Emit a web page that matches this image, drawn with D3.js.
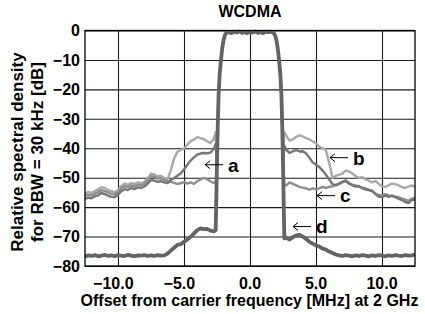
<!DOCTYPE html>
<html><head><meta charset="utf-8">
<script src="https://cdn.jsdelivr.net/npm/d3@7"></script>
<style>
body{margin:0;background:#fff}
text{font-family:"Liberation Sans",Arial,Helvetica,sans-serif;font-weight:bold;fill:#000}
</style>
</head><body>
<svg id="chart" width="425" height="314"></svg>
<script>
const chartTitle = "WCDMA";
const xAxisTitle = "Offset from carrier frequency [MHz] at 2 GHz";
const yAxisTitleLines = ["Relative spectral density", "for RBW = 30 kHz [dB]"];
const xTicks = [-10, -5, 0, 5, 10];
const yTicks = [0, -10, -20, -30, -40, -50, -60, -70, -80];

// carrier (shared by all four traces)
const carrierOffsets = [-2.5,-2.44,-2.38,-2.3,-2.2,-2.1,-2.0,-1.9,-1.8,-1.6,-1.4,-1.2,-1.0,-0.8,-0.6,-0.4,-0.2,0,0.2,0.4,0.6,0.8,1.0,1.2,1.4,1.6,1.8,1.9,2.0,2.1,2.2,2.3,2.38,2.44,2.5];
const carrierLevels  = [-45,-32,-22,-15,-10,-6,-3.2,-1.6,-0.8,-0.5,-0.9,-0.4,-0.7,-0.3,-0.8,-0.5,-0.9,-0.4,-0.7,-0.3,-0.8,-0.5,-0.9,-0.4,-0.6,-0.4,-0.9,-1.6,-3.2,-6,-10,-15,-22,-32,-45];

const leftOffsets = [-12.5,-12.25,-12,-11.75,-11.5,-11.25,-11,-10.75,-10.5,-10.25,-10,-9.75,-9.5,-9.25,-9,-8.75,-8.5,-8.25,-8,-7.75,-7.5,-7.25,-7,-6.75,-6.5,-6.25,-6,-5.75,-5.5,-5.25,-5,-4.75,-4.5,-4.25,-4,-3.75,-3.5,-3.25,-3,-2.75,-2.6];
const rightOffsets = [2.6,2.75,3,3.25,3.5,3.75,4,4.25,4.5,4.75,5,5.25,5.5,5.75,6,6.25,6.5,6.75,7,7.25,7.5,7.75,8,8.25,8.5,8.75,9,9.25,9.5,9.75,10,10.25,10.5,10.75,11,11.25,11.5,11.75,12,12.25,12.5];

const seriesNames = ["b", "c", "a", "d"];
const bLeft = [-55.5,-54.8,-55.2,-54.5,-54,-53.2,-53.5,-54.2,-54.6,-55,-54.2,-52.8,-52,-52.4,-51.8,-52.2,-51.6,-51.9,-51.4,-50.2,-48.6,-48.9,-49.6,-49.3,-50.1,-50.6,-47.5,-43.5,-41.2,-40.6,-40.1,-38.8,-37.6,-37.1,-36.2,-36.6,-36.9,-37.6,-38.2,-37,-34.5];
const bRight = [-34.5,-35.8,-37.4,-37,-36.1,-35.6,-36,-36.6,-37,-37.6,-38.3,-39.4,-40,-40.6,-45,-50,-49.4,-49,-48.6,-47.6,-47.9,-48.6,-49.4,-50.1,-49.8,-50.6,-51,-51.6,-51.1,-52.1,-52.9,-53.1,-52.6,-52,-52.2,-52.6,-53.2,-53.5,-53,-52.6,-53.1];
const cLeft = [-56.3,-55.8,-56,-55.4,-54.9,-54.2,-54.6,-55,-55.5,-55.7,-54.9,-53.6,-52.9,-53.1,-52.6,-53,-52.4,-52.6,-52.1,-51,-49.5,-49.7,-50.3,-50.2,-50.8,-51.2,-51.4,-51.8,-52.1,-51.9,-51.5,-52,-51.6,-52.1,-51.2,-50.6,-50.1,-50.5,-51.2,-51.8,-51.5];
const cRight = [-52.2,-52.6,-51.6,-52.1,-52.6,-53.1,-53.4,-53.6,-54.1,-53.6,-54,-53.6,-53.1,-53.5,-53.1,-53,-52.4,-52.1,-51.6,-51.2,-52.1,-52.4,-52.6,-53.1,-53.4,-53.6,-54.1,-54.4,-55.4,-55.9,-56.1,-55.6,-56,-56.1,-56.4,-56.6,-57.1,-57.4,-57.9,-57.1,-56.9];
const aLeft = [-57.2,-56.8,-57,-56.3,-56,-55.2,-55.6,-56.1,-56.5,-56.6,-55.8,-54.6,-53.9,-54.2,-53.5,-53.9,-53.3,-53.5,-53,-52,-50.8,-51,-51.4,-51.2,-51.6,-51.8,-50.8,-50.2,-49.3,-48.6,-47.2,-45.6,-44.2,-43.1,-42.2,-41.8,-41.6,-41.7,-41.5,-40.2,-38.5];
const aRight = [-39,-40.6,-41.6,-41,-40.6,-41.1,-41,-41.8,-43.2,-44.8,-45.6,-46.4,-47.6,-49,-50.6,-52.2,-52.6,-52,-51.4,-50.9,-51.8,-52.6,-53,-52.8,-53.6,-54,-54.2,-54.6,-55.6,-56.4,-56.6,-56,-56.5,-56.2,-56.6,-57.1,-57.6,-58.2,-58.6,-57.6,-57.4];
const dLeft = [-76.8,-76.4,-76.6,-76.3,-76.7,-76.5,-76.2,-76.6,-76.4,-76.7,-76.3,-76.5,-76.6,-76.2,-76.5,-76.7,-76.4,-76.5,-76.3,-76.6,-76.4,-76.6,-76.3,-76.5,-76.4,-75.8,-74.8,-73.8,-72.8,-72.6,-71.8,-71,-70.1,-69,-67.8,-67.2,-67.5,-67.4,-68,-68.2,-67.8];
const dRight = [-70.6,-70.4,-71,-70.2,-69.6,-69.4,-70,-70.8,-71.8,-72.4,-73,-73.4,-74.1,-74.4,-75.1,-75.6,-76.1,-76.4,-76.6,-76.3,-76.5,-76.7,-76.4,-76.6,-76.3,-76.5,-76.7,-76.4,-76.6,-76.3,-76.5,-76.7,-76.4,-76.6,-76.3,-76.5,-76.6,-76.3,-76.5,-76.4,-76.1];

const annoLabels = ["a", "b", "c", "d"];
const annoX = [-3.4, 6.06, 5.08, 3.26];
const annoY = [-45.6, -43.2, -56.1, -66.6];

const leftSeries = [bLeft, cLeft, aLeft, dLeft];
const rightSeries = [bRight, cRight, aRight, dRight];
const seriesColors = ["#a8a8a8", "#8e8e8e", "#767676", "#646464"];
const seriesWidths = [2.4, 2.4, 2.4, 3.8];

const svg = d3.select("#chart");
const L = 85, R = 415, T = 30.5, B = 266;
const x = d3.scaleLinear().domain([-12.5, 12.5]).range([L, R]);
const y = d3.scaleLinear().domain([-80, 0]).range([B, T]);

// grid
const grid = svg.append("g");
grid.append("g").attr("transform", `translate(0,${B})`)
  .call(d3.axisBottom(x).tickValues(xTicks).tickSize(-(B - T)).tickFormat(""))
  .call(g => g.select(".domain").remove())
  .selectAll("line").attr("stroke", "#1a1a1a").attr("stroke-width", 1.1);
grid.append("g").attr("transform", `translate(${L},0)`)
  .call(d3.axisLeft(y).tickValues(yTicks).tickSize(-(R - L)).tickFormat(""))
  .call(g => g.select(".domain").remove())
  .selectAll("line").attr("stroke", "#1a1a1a").attr("stroke-width", 1.1);

// traces
const line = d3.line().x(d => x(d[0])).y(d => y(d[1]));
seriesNames.forEach((name, i) => {
  const pts = [];
  leftOffsets.forEach((f, j) => pts.push([f, leftSeries[i][j]]));
  carrierOffsets.forEach((f, j) => pts.push([f, carrierLevels[j]]));
  rightOffsets.forEach((f, j) => pts.push([f, rightSeries[i][j]]));
  svg.append("path").datum(pts).attr("d", line)
    .attr("fill", "none").attr("stroke", seriesColors[i])
    .attr("stroke-width", seriesWidths[i]).attr("stroke-linejoin", "round");
});

// frame
svg.append("rect").attr("x", L).attr("y", T).attr("width", R - L).attr("height", B - T)
  .attr("fill", "none").attr("stroke", "#000").attr("stroke-width", 1.3);

// y tick labels
svg.append("g").selectAll("text").data(yTicks).join("text")
  .attr("x", L - 5).attr("y", d => y(d)).attr("dy", "0.36em")
  .attr("text-anchor", "end").attr("font-size", 16)
  .text(d => d < 0 ? "\u2212" + Math.abs(d) : String(d));

// x tick labels: number centered on the tick, minus hangs to the left
const xl = svg.append("g").selectAll("text").data(xTicks).join("text")
  .attr("y", 289).attr("font-size", 16).attr("text-anchor", "start");
xl.each(function(d) {
  const t = d3.select(this);
  const num = Math.abs(d).toFixed(1);
  const sign = d < 0 ? "\u2212" : "";
  const s1 = t.append("tspan").text(sign);
  const s2 = t.append("tspan").text(num);
  const wNum = s2.node().getComputedTextLength();
  const wSign = sign ? s1.node().getComputedTextLength() : 0;
  t.attr("x", x(d) - wNum / 2 - wSign);
});

// titles
svg.append("text").attr("x", 250).attr("y", 17).attr("text-anchor", "middle")
  .attr("font-size", 16).text(chartTitle);
svg.append("text").attr("x", 249.5).attr("y", 305.5).attr("text-anchor", "middle")
  .attr("font-size", 16).text(xAxisTitle);
const ylx = [23, 43];
yAxisTitleLines.forEach((s, i) => {
  svg.append("text").attr("transform", `translate(${ylx[i]},${152}) rotate(-90)`)
    .attr("text-anchor", "middle").attr("font-size", 17).text(s);
});

// annotations: thin arrow pointing left + bold letter
annoLabels.forEach((lab, i) => {
  const tx = x(annoX[i]), ty = y(annoY[i]);
  svg.append("path")
    .attr("d", `M${tx + 18},${ty}H${tx}M${tx + 5},${ty - 4}L${tx},${ty}L${tx + 5},${ty + 4}`)
    .attr("fill", "none").attr("stroke", "#000").attr("stroke-width", 1);
  svg.append("text").attr("x", tx + 23).attr("y", ty).attr("dy", "0.36em")
    .attr("font-size", 19).text(lab);
});
</script>
</body></html>
